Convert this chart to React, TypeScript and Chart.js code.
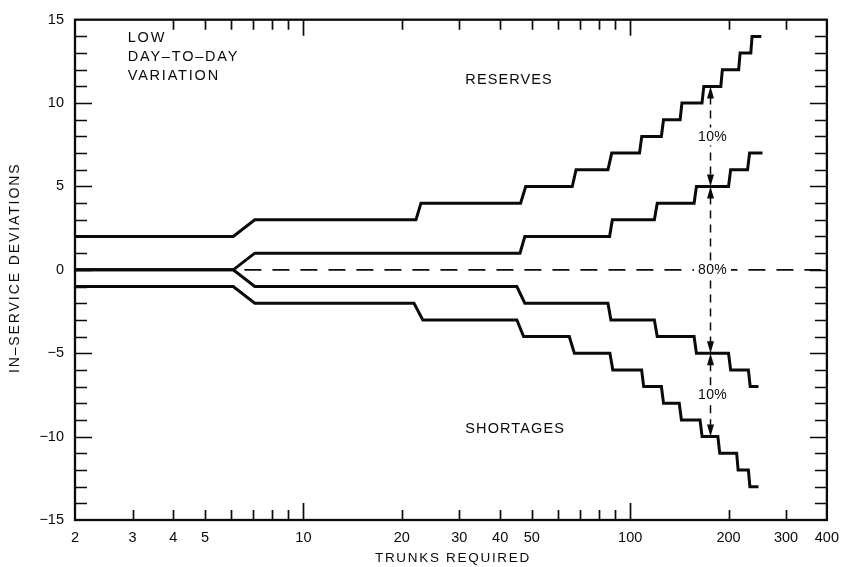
import React, { useEffect, useRef } from "react";
import { Chart, registerables } from "chart.js";

Chart.register(...registerables);

const INK = "#0a0a0a";
const FONT = '"Liberation Sans", Arial, Helvetica, sans-serif';

// ---- axis ticks / labels ----
const xLabelTicks = [2, 3, 4, 5, 10, 20, 30, 40, 50, 100, 200, 300, 400];
const xBottomMarks = [3, 4, 5, 6, 7, 8, 9, 10, 20, 30, 40, 50, 60, 70, 80, 90, 100, 200, 300];
const xTopMarks = [4, 5, 6, 7, 8, 9, 10, 20, 30, 40, 50, 60, 70, 80, 90, 100, 200, 300];
const xMajorMarks = [10, 100];
const yLabelTicks = [-15, -10, -5, 0, 5, 10, 15];
const yMarks = [-14, -13, -12, -11, -10, -9, -8, -7, -6, -5, -4, -3, -2, -1, 0, 1, 2, 3, 4, 5, 6, 7, 8, 9, 10, 11, 12, 13, 14];
const yMajorMarks = [-10, -5, 0, 5, 10];

const xTitle = "TRUNKS REQUIRED";
const yTitle = "IN\u2013SERVICE DEVIATIONS";

// ---- series (trunks required, in-service deviation) ----
const reservesHighX = [2, 6.1, 7.1, 22.1, 22.9, 46.2, 47.9, 66.5, 68.3, 85.5, 87.8, 106.8, 108.5, 124.6, 126.5, 142.2, 144, 165.9, 168, 189.4, 191.5, 214.8, 217, 234, 236, 252];
const reservesHighY = [2, 2, 3, 3, 4, 4, 5, 5, 6, 6, 7, 7, 8, 8, 9, 9, 10, 10, 11, 11, 12, 12, 13, 13, 14, 14];

const reservesLowX = [2, 6.1, 7.1, 46, 47.6, 86.5, 88.2, 118.6, 121, 156.9, 159.5, 200, 203, 228.7, 232, 254];
const reservesLowY = [0, 0, 1, 1, 2, 2, 3, 3, 4, 4, 5, 5, 6, 6, 7, 7];

const shortagesLowX = [2, 6.1, 7.1, 45, 47.6, 85.5, 87.3, 118.6, 121, 156.9, 159.5, 200, 203, 230, 233, 247];
const shortagesLowY = [0, 0, -1, -1, -2, -2, -3, -3, -4, -4, -5, -5, -6, -6, -7, -7];

const shortagesHighX = [2, 6.1, 7.1, 21.8, 23.2, 45, 47.2, 65.1, 67.5, 86.7, 88.5, 108.4, 110, 124.6, 126.5, 141.3, 143.5, 163.6, 166, 185.5, 188, 211.8, 214, 230, 232.5, 247];
const shortagesHighY = [-1, -1, -2, -2, -3, -3, -4, -4, -5, -5, -6, -6, -7, -7, -8, -8, -9, -9, -10, -10, -11, -11, -12, -12, -13, -13];

const medianX = [6.6, 400];
const medianY = [0, 0];

// ---- percentage band markers ----
const bandX = 176;
const bandLevels = [11, 5, -5, -10];
const bandLabels = ["10%", "80%", "10%"];

// ---- text annotations (data coordinates) ----
const noteLines = ["LOW", "DAY\u2013TO\u2013DAY", "VARIATION"];
const noteAnchor = { x: 2.9, y: 13.9 };
const reservesLabel = { text: "RESERVES", x: 31.3, y: 11.4 };
const shortagesLabel = { text: "SHORTAGES", x: 31.3, y: -9.55 };

const pts = (xs: number[], ys: number[]) => xs.map((x, i) => ({ x, y: ys[i] }));

function setText(ctx: any, size: number, spacing: number, align: CanvasTextAlign) {
  ctx.font = `${size}px ${FONT}`;
  ctx.letterSpacing = `${spacing}px`;
  ctx.textAlign = align;
  ctx.textBaseline = "middle";
}

function arrowHead(ctx: CanvasRenderingContext2D, x: number, tipY: number, dir: number) {
  // dir = -1 pointing up, +1 pointing down
  ctx.beginPath();
  ctx.moveTo(x, tipY);
  ctx.lineTo(x - 3.5, tipY - dir * 12);
  ctx.lineTo(x + 3.5, tipY - dir * 12);
  ctx.closePath();
  ctx.fill();
}

const overlay = {
  id: "overlay",
  afterDraw(chart: any) {
    const { ctx, chartArea: a, scales } = chart;
    const xs = scales.x;
    const ys = scales.y;
    ctx.save();
    ctx.strokeStyle = INK;
    ctx.fillStyle = INK;

    // inward tick marks
    ctx.lineWidth = 1.7;
    ctx.beginPath();
    for (const v of xBottomMarks) {
      const p = Math.round(xs.getPixelForValue(v)) + 0.5;
      const len = xMajorMarks.includes(v) ? 17 : 10;
      ctx.moveTo(p, a.bottom);
      ctx.lineTo(p, a.bottom - len);
    }
    for (const v of xTopMarks) {
      const p = Math.round(xs.getPixelForValue(v)) + 0.5;
      const len = xMajorMarks.includes(v) ? 16 : 10;
      ctx.moveTo(p, a.top);
      ctx.lineTo(p, a.top + len);
    }
    for (const v of yMarks) {
      const p = Math.round(ys.getPixelForValue(v)) + 0.5;
      const len = yMajorMarks.includes(v) ? 17 : 12;
      ctx.moveTo(a.left, p);
      ctx.lineTo(a.left + len, p);
      ctx.moveTo(a.right, p);
      ctx.lineTo(a.right - len, p);
    }
    ctx.stroke();

    // frame
    ctx.lineWidth = 2.3;
    ctx.strokeRect(a.left, a.top, a.right - a.left, a.bottom - a.top);

    // axis titles
    setText(ctx, 13.5, 1.7, "center");
    ctx.fillText(xTitle, (a.left + a.right) / 2 + 2, 558);
    ctx.save();
    ctx.translate(15, (a.top + a.bottom) / 2 - 2);
    ctx.rotate(-Math.PI / 2);
    setText(ctx, 14, 1.9, "center");
    ctx.fillText(yTitle, 0, 0);
    ctx.restore();

    // notes
    setText(ctx, 14.5, 1.8, "left");
    const nx = xs.getPixelForValue(noteAnchor.x);
    const ny = ys.getPixelForValue(noteAnchor.y);
    noteLines.forEach((s, i) => ctx.fillText(s, nx, ny + i * 19));
    setText(ctx, 14.5, 1.1, "left");
    for (const l of [reservesLabel, shortagesLabel]) {
      ctx.fillText(l.text, xs.getPixelForValue(l.x), ys.getPixelForValue(l.y));
    }

    // percentage band arrows
    const bx = Math.round(xs.getPixelForValue(bandX)) + 0.5;
    for (let i = 0; i < bandLevels.length - 1; i++) {
      const y1 = ys.getPixelForValue(bandLevels[i]);
      const y2 = ys.getPixelForValue(bandLevels[i + 1]);
      ctx.save();
      ctx.lineWidth = 1.5;
      ctx.setLineDash([8, 6]);
      ctx.beginPath();
      ctx.moveTo(bx, y1 + 10);
      ctx.lineTo(bx, y2 - 10);
      ctx.stroke();
      ctx.restore();
      arrowHead(ctx, bx, y1, -1);
      arrowHead(ctx, bx, y2, 1);
      // label with white backing
      const my = ys.getPixelForValue((bandLevels[i] + bandLevels[i + 1]) / 2);
      setText(ctx, 14, 0.3, "center");
      const w = ctx.measureText(bandLabels[i]).width;
      ctx.fillStyle = "#ffffff";
      ctx.fillRect(bx + 2 - w / 2 - 4, my - 9, w + 8, 18);
      ctx.fillStyle = INK;
      ctx.fillText(bandLabels[i], bx + 2, my + 0.5);
    }
    ctx.restore();
  },
};

export default function App() {
  const ref = useRef<HTMLCanvasElement>(null);

  useEffect(() => {
    const line = (xs: number[], ys: number[]) => ({
      data: pts(xs, ys),
      borderColor: INK,
      borderWidth: 3,
      pointRadius: 0,
      fill: false,
      tension: 0,
      borderJoinStyle: "miter" as const,
      borderCapStyle: "butt" as const,
    });
    const chart = new Chart(ref.current!, {
      type: "line",
      data: {
        datasets: [
          line(reservesHighX, reservesHighY),
          line(reservesLowX, reservesLowY),
          line(shortagesLowX, shortagesLowY),
          line(shortagesHighX, shortagesHighY),
          {
            data: pts(medianX, medianY),
            borderColor: INK,
            borderWidth: 1.6,
            borderDash: [17, 11],
            pointRadius: 0,
            fill: false,
            tension: 0,
          },
        ],
      },
      options: {
        animation: false,
        responsive: false,
        maintainAspectRatio: false,
        devicePixelRatio: 1,
        events: [],
        layout: { padding: { left: 0, top: 15, right: 14, bottom: 0 } },
        plugins: { legend: { display: false }, tooltip: { enabled: false } },
        scales: {
          x: {
            type: "logarithmic",
            min: 2,
            max: 400,
            position: "bottom",
            afterBuildTicks: (s: any) => {
              s.ticks = xLabelTicks.map((v) => ({ value: v }));
            },
            afterFit: (s: any) => {
              s.height = 47;
            },
            grid: { display: false, drawTicks: false },
            border: { display: false },
            ticks: {
              autoSkip: false,
              maxRotation: 0,
              minRotation: 0,
              padding: 9,
              color: INK,
              font: { family: FONT, size: 14.5 },
              callback: (v: any) => String(v),
            },
          },
          y: {
            type: "linear",
            min: -15,
            max: 15,
            afterBuildTicks: (s: any) => {
              s.ticks = yLabelTicks.map((v) => ({ value: v }));
            },
            afterFit: (s: any) => {
              s.width = 75;
            },
            grid: { display: false, drawTicks: false },
            border: { display: false },
            ticks: {
              padding: 11,
              color: INK,
              font: { family: FONT, size: 14.5 },
              callback: (v: any) => (Number(v) < 0 ? "\u2212" + Math.abs(Number(v)) : String(v)),
            },
          },
        },
      },
      plugins: [overlay],
    } as any);
    return () => chart.destroy();
  }, []);

  return (
    <div style={{ position: "absolute", left: 0, top: 0, width: 848, height: 567, background: "#fff" }}>
      <canvas ref={ref} width={848} height={567} style={{ display: "block", width: 848, height: 567 }} />
    </div>
  );
}
